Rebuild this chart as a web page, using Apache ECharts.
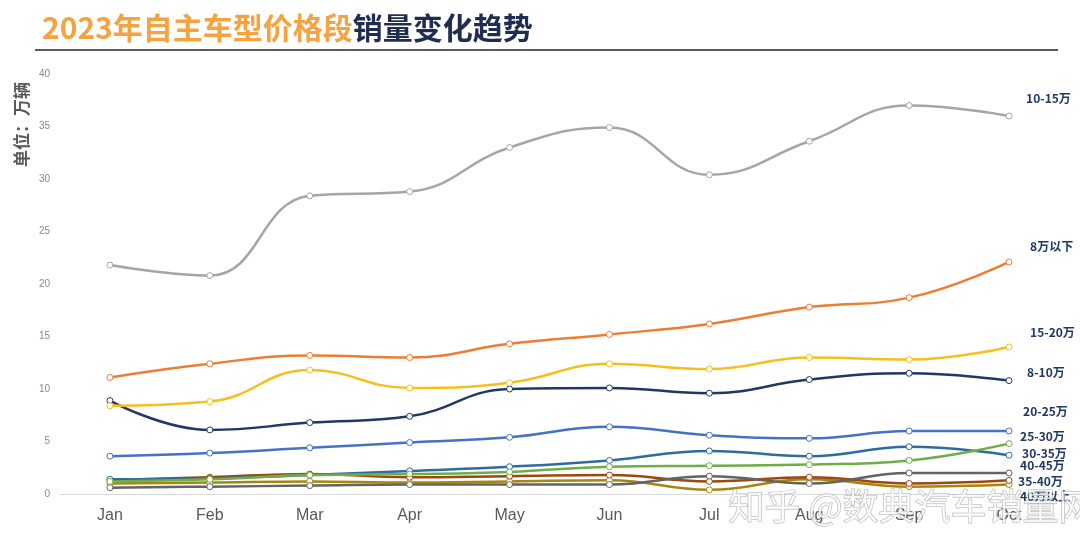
<!DOCTYPE html>
<html>
<head>
<meta charset="utf-8">
<script src="https://cdn.jsdelivr.net/npm/echarts@6/dist/echarts.min.js"></script>
<style>html,body{margin:0;padding:0;background:#fff;}#c{width:1080px;height:540px;}</style>
</head>
<body>
<div id="c"></div>
<script>
const months = ['Jan','Feb','Mar','Apr','May','Jun','Jul','Aug','Sep','Oct'];
const yTicks = [0,5,10,15,20,25,30,35,40];

const s10_15 = [21.8,20.8,28.4,28.8,33.0,34.9,30.4,33.6,37.0,36.0];
const s8below = [11.1,12.4,13.2,13.0,14.3,15.2,16.2,17.8,18.7,22.1];
const s15_20 = [8.4,8.8,11.8,10.1,10.6,12.4,11.9,13.0,12.8,14.0];
const s8_10 = [8.9,6.1,6.8,7.4,10.0,10.1,9.6,10.9,11.5,10.8];
const s20_25 = [3.6,3.9,4.4,4.9,5.4,6.4,5.6,5.3,6.0,6.0];
const s25_30 = [1.2,1.4,1.8,1.9,2.1,2.6,2.7,2.8,3.2,4.8];
const s30_35 = [1.4,1.5,1.8,2.2,2.6,3.2,4.1,3.6,4.5,3.7];
const s40_45 = [0.6,0.7,0.8,0.9,0.9,0.9,1.7,1.0,2.0,2.0];
const s35_40 = [1.3,1.6,1.9,1.6,1.7,1.8,1.2,1.6,1.0,1.3];
const s40up = [1.0,1.1,1.2,1.1,1.2,1.3,0.4,1.4,0.7,0.9];

const names = ['10-15万','8万以下','15-20万','8-10万','20-25万','25-30万','30-35万','40-45万','35-40万','40万以上'];
const datas = [s10_15,s8below,s15_20,s8_10,s20_25,s25_30,s30_35,s40_45,s35_40,s40up];
const colors = ['#a5a5a5','#ed7d31','#f5bf1c','#1f3864','#4472c4','#70ad47','#2f6c9e','#636363','#9e480e','#a8860c'];
const offsets = [[17,-18],[21,-16],[21,-15],[18,-8],[14,-20],[11,-7],[13,-2],[11,-8],[9,1],[11,12]];

const chart = echarts.init(document.getElementById('c'));
const series = names.map((n,i)=>({
  name:n, type:'line', data:datas[i], smooth:0.45,
  symbol:'circle', symbolSize:6, showSymbol:true,
  lineStyle:{width:2.5,color:colors[i]},
  itemStyle:{color:'#fff',borderColor:colors[i],borderWidth:1},
  z: 10-i,
  endLabel:{show:true,formatter:n,distance:0,offset:offsets[i],
    fontSize:12,fontWeight:'bold',color:'#1f3864',fontFamily:'Noto Sans CJK SC'},
  labelLayout:{hideOverlap:false}
}));

chart.setOption({
  animation:false,
  title:{
    left:37, top:8,
    text:'{a|2023年自主车型价格段}{b|销量变化趋势}',
    textStyle:{rich:{
      a:{fontSize:30,fontWeight:'bold',color:'#f4a340',fontFamily:'Noto Sans CJK SC'},
      b:{fontSize:30,fontWeight:'bold',color:'#1f2d50',fontFamily:'Noto Sans CJK SC'}
    }}
  },
  graphic:[
    {type:'line',shape:{x1:35,y1:50,x2:1058,y2:50},style:{stroke:'#5a5a5a',lineWidth:2}},
    {type:'text',x:13,y:167,rotation:Math.PI/2,z:50,
      style:{text:'单位：万辆',fontSize:17,fontWeight:'bold',fill:'#595959',fontFamily:'Noto Sans CJK SC',align:'left',verticalAlign:'top'}},
    {type:'text',left:728,top:488,z:100,style:{text:'知乎 @数典汽车销量网',fontSize:36,
      fill:'rgba(255,255,255,0.75)',stroke:'rgba(120,120,120,0.6)',lineWidth:1,fontFamily:'Noto Sans CJK SC'}}
  ],
  grid:{left:60,right:21,top:74,bottom:46,outerBoundsMode:'none'},
  xAxis:{type:'category',data:months,boundaryGap:true,
    axisLine:{lineStyle:{color:'#d9d9d9'}},axisTick:{show:false},
    axisLabel:{fontSize:16,color:'#595959',margin:14,fontFamily:'Liberation Sans'}},
  yAxis:{type:'value',min:0,max:40,interval:5,
    splitLine:{show:false},axisLine:{show:false},axisTick:{show:false},
    axisLabel:{fontSize:10,color:'#888',margin:10,fontFamily:'Liberation Sans',
      formatter:v=>yTicks.includes(v)?String(v):''}},
  series:series
});
</script>
</body>
</html>
